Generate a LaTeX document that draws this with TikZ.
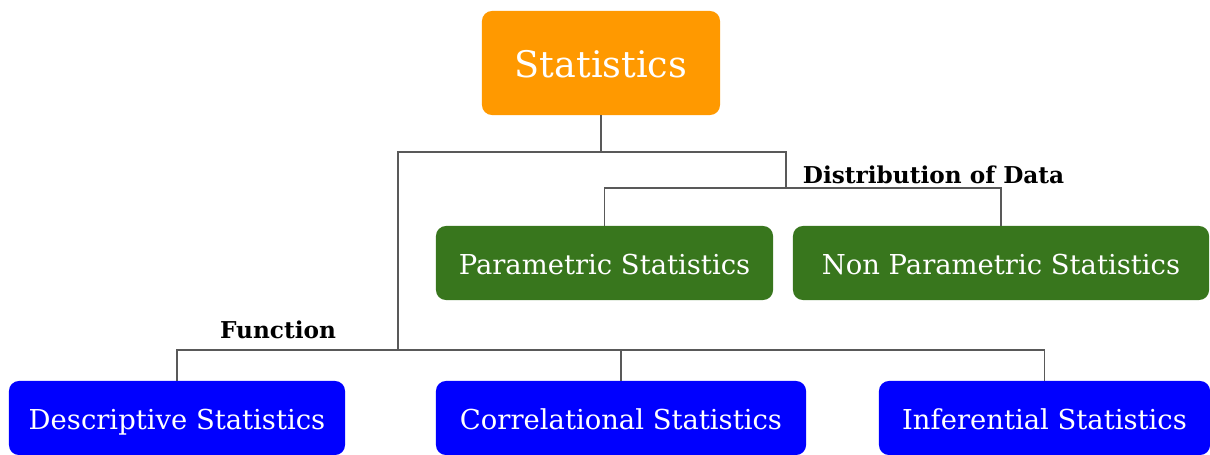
\documentclass[tikz,border=0pt]{standalone}
\usepackage{fontspec}
\setmainfont{DejaVu Serif}
\usepackage{tikz}
\usetikzlibrary{calc, positioning}
\definecolor{statorange}{HTML}{FF9900}
\definecolor{statgreen}{HTML}{38761D}
\definecolor{statblue}{HTML}{0000FF}
\tikzset{
	box/.style={rounded corners=0.25cm, text=white, inner sep=0pt, minimum height=1.85cm, text height=17pt, text depth=0pt, font=\fontsize{19.5}{21}\selectfont},
	link/.style={draw=black!65, line width=0.9pt},
	tag/.style={font=\bfseries\fontsize{16.5}{18}\selectfont}
}

\begin{document}
\begin{tikzpicture}[x=0.025cm, y=-0.025cm]
				\clip (0,0) rectangle (1210,454);
				\useasboundingbox (0,0) rectangle (1210,454);
				% Boxes
				\node [box, fill=statorange, minimum width=5.95cm, minimum height=2.6cm, text height=21pt, text depth=0pt, font=\fontsize{26}{28}\selectfont] (stat) at (601,63) {Statistics};
				\node [box, fill=statgreen, minimum width=8.425cm] (param) at (604.5,263) {Parametric Statistics};
				\node [box, fill=statgreen, minimum width=10.4cm] (nonparam) at (1001,263) {Non Parametric Statistics};
				\node [box, fill=statblue, minimum width=8.4cm] (desc) at (177,418) {Descriptive Statistics};
				\node [box, fill=statblue, minimum width=9.25cm] (corr) at (621,418) {Correlational Statistics};
				\node [box, fill=statblue, minimum width=8.275cm] (infer) at (1044.5,418) {Inferential Statistics};
				
				% Joints
				\coordinate (top) at (601,152);
				\coordinate (tl) at (398,152);
				\coordinate (tr) at (786,152);
				\coordinate (dj) at (786,188);
				\coordinate (fj) at (398,350);
				
				% Connectors
				\draw [link] (stat.south) -- (top);
				\draw [link] (fj) -- (tl) -- (tr) -- (dj);
				\draw [link] (param.north) |- (dj) -| (nonparam.north);
				\draw [link] (desc.north) |- (fj) -| (infer.north);
				\draw [link] (corr.north) -- (corr.north |- fj);
				
				% Labels
				\node [tag, anchor=west] (dist) at (798,175) {Distribution of Data};
				\node [tag] (func) at (278,330) {Function};
			\end{tikzpicture}
\end{document}
